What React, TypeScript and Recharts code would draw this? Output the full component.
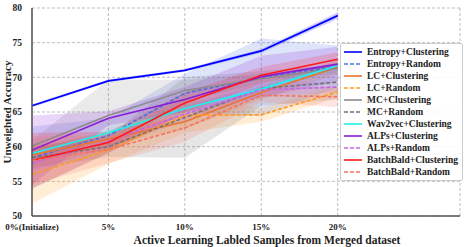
import { Area, CartesianGrid, ComposedChart, Line, XAxis, YAxis } from "recharts";

const FONT = "'Liberation Serif', 'Times New Roman', serif";

const steps = [0, 5, 10, 15, 20];
const stepLabels = ["0%(Initialize)", "5%", "10%", "15%", "20%"];
const yTicks = [50, 55, 60, 65, 70, 75, 80];

// mean accuracy per step
const entropyClustering = [65.9, 69.5, 71.0, 73.8, 78.9];
const entropyRandom = [58.4, 61.6, 67.7, 70.0, 71.6];
const lcClustering = [58.8, 61.1, 63.6, 67.8, 71.5];
const lcRandom = [56.0, 59.5, 64.5, 64.6, 67.9];
const mcClustering = [60.1, 64.5, 68.1, 69.8, 71.3];
const mcRandom = [58.4, 60.0, 64.2, 68.4, 69.3];
const wav2vecClustering = [59.0, 62.0, 65.5, 68.3, 71.7];
const alpsClustering = [59.5, 64.1, 66.8, 70.1, 71.9];
const alpsRandom = [57.6, 60.8, 64.7, 68.2, 68.6];
const batchbaldClustering = [58.0, 60.6, 66.3, 70.3, 72.6];
const batchbaldRandom = [58.0, 59.6, 62.7, 67.4, 67.2];

// half width of the shaded band
const entropyClusteringStd = [0.2, 0.2, 0.2, 0.3, 0.5];
const entropyRandomStd = [4.5, 2.5, 2.8, 5.6, 3.0];
const lcClusteringStd = [1.0, 1.0, 1.0, 1.0, 1.0];
const lcRandomStd = [4.2, 2.0, 2.5, 1.0, 0.8];
const mcClusteringStd = [0.8, 5.2, 1.5, 0.7, 0.7];
const mcRandomStd = [1.5, 1.5, 5.8, 2.5, 2.5];
const wav2vecClusteringStd = [0.3, 0.4, 0.5, 0.5, 0.5];
const alpsClusteringStd = [5.0, 1.0, 1.8, 3.0, 2.5];
const alpsRandomStd = [1.0, 1.0, 1.0, 1.0, 0.8];
const batchbaldClusteringStd = [4.0, 1.5, 1.5, 1.2, 1.0];
const batchbaldRandomStd = [3.5, 2.0, 2.0, 1.0, 1.5];

interface Series {
  name: string;
  mean: number[];
  std: number[];
  color: string;
  dashed: boolean;
}

const series: Series[] = [
  { name: "Entropy+Clustering", mean: entropyClustering, std: entropyClusteringStd, color: "#0000ff", dashed: false },
  { name: "Entropy+Random", mean: entropyRandom, std: entropyRandomStd, color: "#4a6fe3", dashed: true },
  { name: "LC+Clustering", mean: lcClustering, std: lcClusteringStd, color: "#e8762d", dashed: false },
  { name: "LC+Random", mean: lcRandom, std: lcRandomStd, color: "#ff9a1a", dashed: true },
  { name: "MC+Clustering", mean: mcClustering, std: mcClusteringStd, color: "#8c8c8c", dashed: false },
  { name: "MC+Random", mean: mcRandom, std: mcRandomStd, color: "#737373", dashed: true },
  { name: "Wav2vec+Clustering", mean: wav2vecClustering, std: wav2vecClusteringStd, color: "#1ef0f0", dashed: false },
  { name: "ALPs+Clustering", mean: alpsClustering, std: alpsClusteringStd, color: "#8a1bd6", dashed: false },
  { name: "ALPs+Random", mean: alpsRandom, std: alpsRandomStd, color: "#c266e8", dashed: true },
  { name: "BatchBald+Clustering", mean: batchbaldClustering, std: batchbaldClusteringStd, color: "#ff1a1a", dashed: false },
  { name: "BatchBald+Random", mean: batchbaldRandom, std: batchbaldRandomStd, color: "#f8705e", dashed: true },
];

const rows = steps.map((x, i) => {
  const row: Record<string, number | number[]> = { x };
  series.forEach((s) => {
    row[s.name] = s.mean[i];
    row[s.name + "_band"] = [s.mean[i] - s.std[i], s.mean[i] + s.std[i]];
  });
  return row;
});

function LegendBox() {
  return (
    <div
      style={{
        position: "absolute",
        left: 340,
        top: 43,
        border: "1px solid #cccccc",
        borderRadius: 2,
        background: "rgba(255,255,255,0.85)",
        padding: "2px 4px 2px 2px",
        fontFamily: FONT,
        fontWeight: "bold",
        fontSize: 9.5,
        color: "#222",
      }}
    >
      {series.map((s) => (
        <div key={s.name} style={{ display: "flex", alignItems: "center", height: 12 }}>
          <svg width={20} height={6} style={{ marginRight: 4 }}>
            <line
              x1={1}
              x2={19}
              y1={3}
              y2={3}
              stroke={s.color}
              strokeWidth={1.6}
              strokeDasharray={s.dashed ? "4 2" : undefined}
            />
          </svg>
          <span style={{ whiteSpace: "nowrap" }}>{s.name}</span>
        </div>
      ))}
    </div>
  );
}

export default function App() {
  return (
    <div style={{ position: "absolute", left: 0, top: 0, width: 466, height: 247, background: "#fff" }}>
      <ComposedChart width={466} height={247} data={rows} margin={{ top: 8, right: 6, left: 0, bottom: 0 }}>
        <CartesianGrid stroke="#bdbdbd" strokeDasharray="3 2" />
        <XAxis
          dataKey="x"
          type="number"
          domain={[0, 28]}
          ticks={steps}
          tickFormatter={(v: number) => stepLabels[steps.indexOf(v)]}
          height={31}
          tickLine={false}
          axisLine={{ stroke: "#555", strokeWidth: 1.5 }}
          tick={{ fontFamily: FONT, fontWeight: "bold", fontSize: 9, fill: "#222" }}
          label={{
            content: (props: any) => {
              const vb = props.viewBox;
              return (
                <text
                  x={vb.x + vb.width / 2 + 21}
                  y={vb.y + vb.height - 3}
                  textAnchor="middle"
                  fontFamily={FONT}
                  fontWeight="bold"
                  fontSize={11.5}
                  fill="#222"
                >
                  Active Learning Labled Samples from Merged dataset
                </text>
              );
            },
          }}
        />
        <YAxis
          type="number"
          domain={[50, 80]}
          ticks={yTicks}
          width={32}
          tickLine={false}
          tickMargin={4}
          axisLine={{ stroke: "#555", strokeWidth: 1.5 }}
          tick={{ fontFamily: FONT, fontWeight: "bold", fontSize: 9.5, fill: "#222" }}
          label={{
            content: (props: any) => {
              const vb = props.viewBox;
              const cy = vb.y + vb.height / 2;
              return (
                <text
                  x={11}
                  y={cy}
                  transform={`rotate(-90, 11, ${cy})`}
                  textAnchor="middle"
                  fontFamily={FONT}
                  fontWeight="bold"
                  fontSize={11}
                  fill="#222"
                >
                  Unweighted Accuracy
                </text>
              );
            },
          }}
        />
        {series.map((s) => (
          <Area
            key={s.name + "_band"}
            type="linear"
            dataKey={s.name + "_band"}
            stroke="none"
            fill={s.color}
            fillOpacity={0.18}
            isAnimationActive={false}
            legendType="none"
          />
        ))}
        {series.map((s) => (
          <Line
            key={s.name}
            type="linear"
            dataKey={s.name}
            stroke={s.color}
            strokeWidth={s.name === "Entropy+Clustering" ? 1.8 : 1.6}
            strokeDasharray={s.dashed ? "4 2" : undefined}
            dot={false}
            isAnimationActive={false}
          />
        ))}
      </ComposedChart>
      <LegendBox />
    </div>
  );
}
